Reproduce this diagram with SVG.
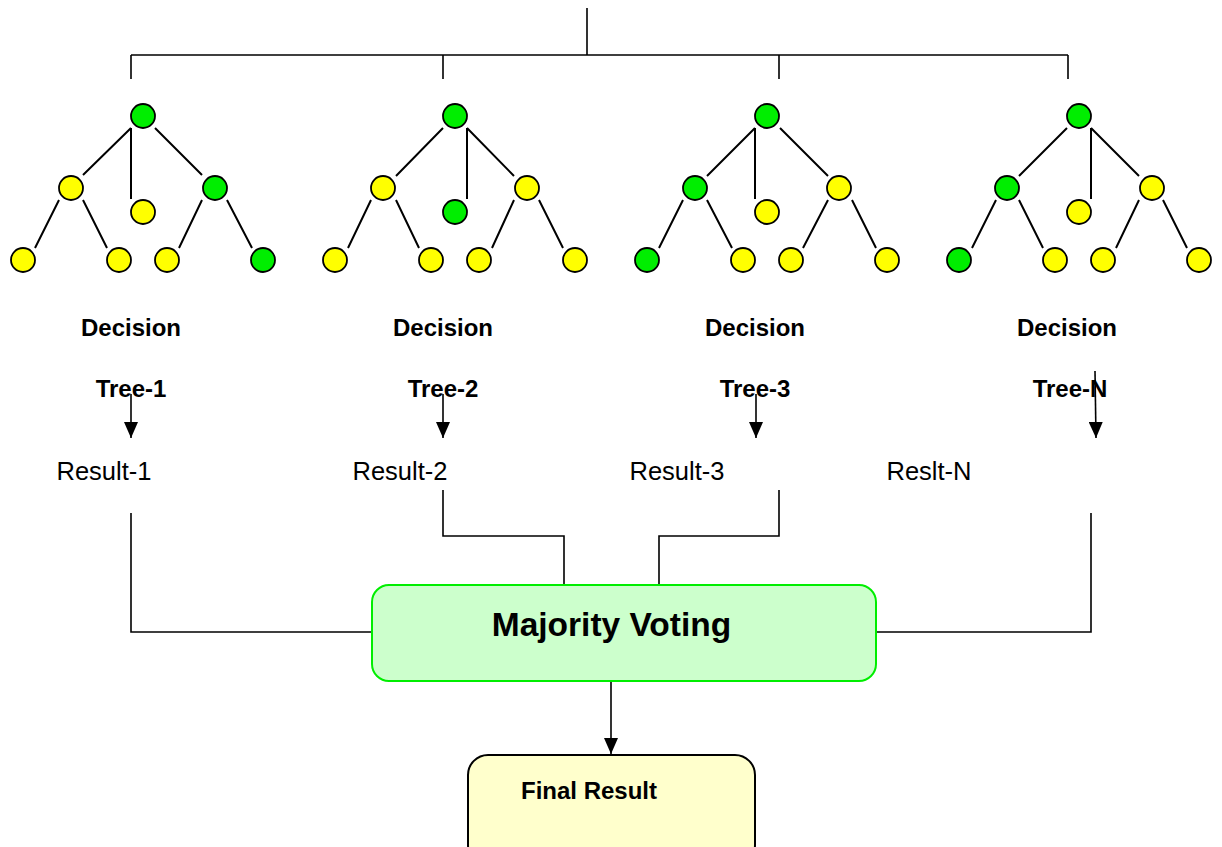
<svg xmlns="http://www.w3.org/2000/svg" width="1222" height="847" viewBox="0 0 1222 847">
<style>
.g{fill:#00ee00;stroke:#000;stroke-width:1.8}
.y{fill:#ffff00;stroke:#000;stroke-width:1.8}
.e{stroke:#000;stroke-width:2;fill:none}
.c{stroke:#000;stroke-width:1.6;fill:none}
.lb{font-family:"Liberation Sans",Arial,sans-serif;font-weight:bold;font-size:24px;fill:#000;text-anchor:middle}
.rs{font-family:"Liberation Sans",Arial,sans-serif;font-size:25.5px;fill:#000;text-anchor:middle}
</style>
<defs>
<marker id="ah" viewBox="0 0 16 14" refX="16" refY="7" markerWidth="16" markerHeight="14" markerUnits="userSpaceOnUse" orient="auto">
<path d="M0,0 L16,7 L0,14 Z" fill="#000"/>
</marker>
</defs>
<rect width="1222" height="847" fill="#fff"/>

<g id="connectors">
<path class="c" d="M587,8 V55 M131,55 H1068 M131,55 V79 M443,55 V79 M779,55 V79 M1068,55 V79"/>
<line class="c" x1="131" y1="394" x2="131" y2="438" marker-end="url(#ah)"/>
<line class="c" x1="443" y1="394" x2="443" y2="438" marker-end="url(#ah)"/>
<line class="c" x1="756" y1="394" x2="756" y2="438" marker-end="url(#ah)"/>
<line class="c" x1="1095" y1="371" x2="1096" y2="438" marker-end="url(#ah)"/>
<path class="c" d="M131,513 V632 H372"/>
<path class="c" d="M443,490 V536 H564 V584"/>
<path class="c" d="M779,490 V536 H659 V584"/>
<path class="c" d="M1091,513 V632 H876"/>
<line class="c" x1="611" y1="682" x2="611" y2="754" marker-end="url(#ah)"/>
</g>

<g id="tree1">
<path class="e" d="M131,128 L83,175 M131,128 V199 M155,128 L202,175 M59,200 L35,248 M83,200 L107,248 M202,200 L179,248 M227,200 L252,248"/>
<circle class="g" cx="143" cy="116" r="12"/>
<circle class="y" cx="71" cy="188" r="12"/>
<circle class="y" cx="143" cy="212" r="12"/>
<circle class="g" cx="215" cy="188" r="12"/>
<circle class="y" cx="23" cy="260" r="12"/>
<circle class="y" cx="119" cy="260" r="12"/>
<circle class="y" cx="167" cy="260" r="12"/>
<circle class="g" cx="263" cy="260" r="12"/>
<text class="lb" x="131" y="336">Decision</text>
<text class="lb" x="131" y="397">Tree-1</text>
</g>

<g id="tree2">
<path class="e" d="M443,128 L396,176 M467,128 V199 M467,128 L514,176 M371,200 L348,248 M396,200 L419,248 M514,200 L492,248 M539,200 L563,248"/>
<circle class="g" cx="455" cy="116" r="12"/>
<circle class="y" cx="383" cy="188" r="12"/>
<circle class="g" cx="455" cy="212" r="12"/>
<circle class="y" cx="527" cy="188" r="12"/>
<circle class="y" cx="335" cy="260" r="12"/>
<circle class="y" cx="431" cy="260" r="12"/>
<circle class="y" cx="479" cy="260" r="12"/>
<circle class="y" cx="575" cy="260" r="12"/>
<text class="lb" x="443" y="336">Decision</text>
<text class="lb" x="443" y="397">Tree-2</text>
</g>

<g id="tree3">
<path class="e" d="M755,128 L707,176 M755,128 V199 M780,128 L828,176 M683,200 L659,248 M707,200 L732,248 M828,200 L803,248 M852,200 L876,248"/>
<circle class="g" cx="767" cy="116" r="12"/>
<circle class="g" cx="695" cy="188" r="12"/>
<circle class="y" cx="767" cy="212" r="12"/>
<circle class="y" cx="839" cy="188" r="12"/>
<circle class="g" cx="647" cy="260" r="12"/>
<circle class="y" cx="743" cy="260" r="12"/>
<circle class="y" cx="791" cy="260" r="12"/>
<circle class="y" cx="887" cy="260" r="12"/>
<text class="lb" x="755" y="336">Decision</text>
<text class="lb" x="755" y="397">Tree-3</text>
</g>

<g id="treeN">
<path class="e" d="M1067,128 L1019,176 M1091,128 V199 M1091,128 L1139,176 M996,200 L972,248 M1019,200 L1043,248 M1139,200 L1116,248 M1163,200 L1187,248"/>
<circle class="g" cx="1079" cy="116" r="12"/>
<circle class="g" cx="1007" cy="188" r="12"/>
<circle class="y" cx="1079" cy="212" r="12"/>
<circle class="y" cx="1152" cy="188" r="12"/>
<circle class="g" cx="959" cy="260" r="12"/>
<circle class="y" cx="1055" cy="260" r="12"/>
<circle class="y" cx="1103" cy="260" r="12"/>
<circle class="y" cx="1199" cy="260" r="12"/>
<text class="lb" x="1067" y="336">Decision</text>
<text class="lb" x="1070" y="397">Tree-N</text>
</g>

<g id="result1"><text class="rs" x="104" y="480">Result-1</text></g>
<g id="result2"><text class="rs" x="400" y="480">Result-2</text></g>
<g id="result3"><text class="rs" x="677" y="480">Result-3</text></g>
<g id="resultN"><text class="rs" x="929" y="480">Reslt-N</text></g>

<g id="majority">
<rect x="372" y="585" width="504" height="96" rx="17" fill="#ccffcc" stroke="#00ee00" stroke-width="2"/>
<text x="611.5" y="636" font-family="Liberation Sans, Arial, sans-serif" font-weight="bold" font-size="33.5" text-anchor="middle">Majority Voting</text>
</g>

<g id="final">
<rect x="468" y="755" width="287" height="110" rx="20" fill="#ffffcc" stroke="#000" stroke-width="2"/>
<text x="589" y="799" font-family="Liberation Sans, Arial, sans-serif" font-weight="bold" font-size="24" text-anchor="middle">Final Result</text>
</g>
</svg>
